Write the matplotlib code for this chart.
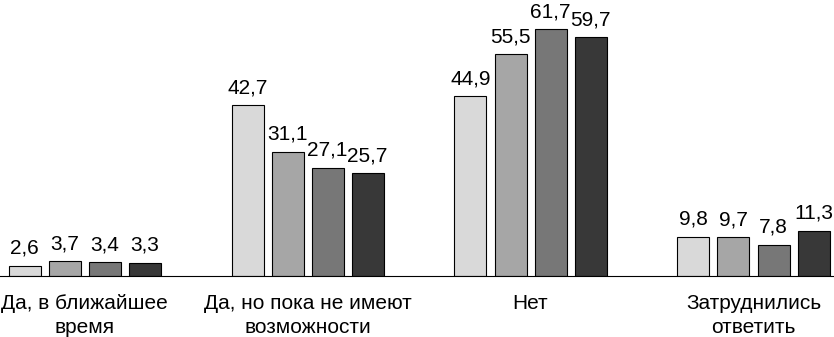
import matplotlib
matplotlib.use("Agg")
import matplotlib.pyplot as plt
import numpy as np

plt.rcParams['font.family'] = ['Liberation Sans', 'DejaVu Sans']

categories = ['Да, в ближайшее\nвремя', 'Да, но пока не имеют\nвозможности',
              'Нет', 'Затруднились\nответить']
series = [
    [2.6, 42.7, 44.9, 9.8],
    [3.7, 31.1, 55.5, 9.7],
    [3.4, 27.1, 61.7, 7.8],
    [3.3, 25.7, 59.7, 11.3],
]
colors = ['#d9d9d9', '#a6a6a6', '#777777', '#383838']

fig = plt.figure(figsize=(8.34, 3.37), dpi=100)
ax = fig.add_axes([0, 61 / 337, 1, 276 / 337])

x = np.arange(len(categories))
width = 0.1435
step = 0.1794
for i, vals in enumerate(series):
    pos = x + (i - 1.5) * step
    ax.bar(pos, vals, width=width, color=colors[i], edgecolor='black', linewidth=0.8)
    for p, v in zip(pos, vals):
        ax.annotate(f'{v:.1f}'.replace('.', ','), (p, v), xytext=(0, 8.5),
                    textcoords='offset points', ha='center', va='baseline',
                    fontsize=15)

ax.set_xlim(-0.379, 3.361)
ax.set_ylim(0, 69)
ax.set_xticks(x)
ax.set_xticklabels(categories, fontsize=15, linespacing=1.3)
ax.tick_params(axis='x', length=0, pad=13)
ax.set_yticks([])
for s in ['top', 'left', 'right']:
    ax.spines[s].set_visible(False)
ax.spines['bottom'].set_linewidth(0.8)
ax.patch.set_alpha(0)

fig.savefig('out.png', dpi=100)
